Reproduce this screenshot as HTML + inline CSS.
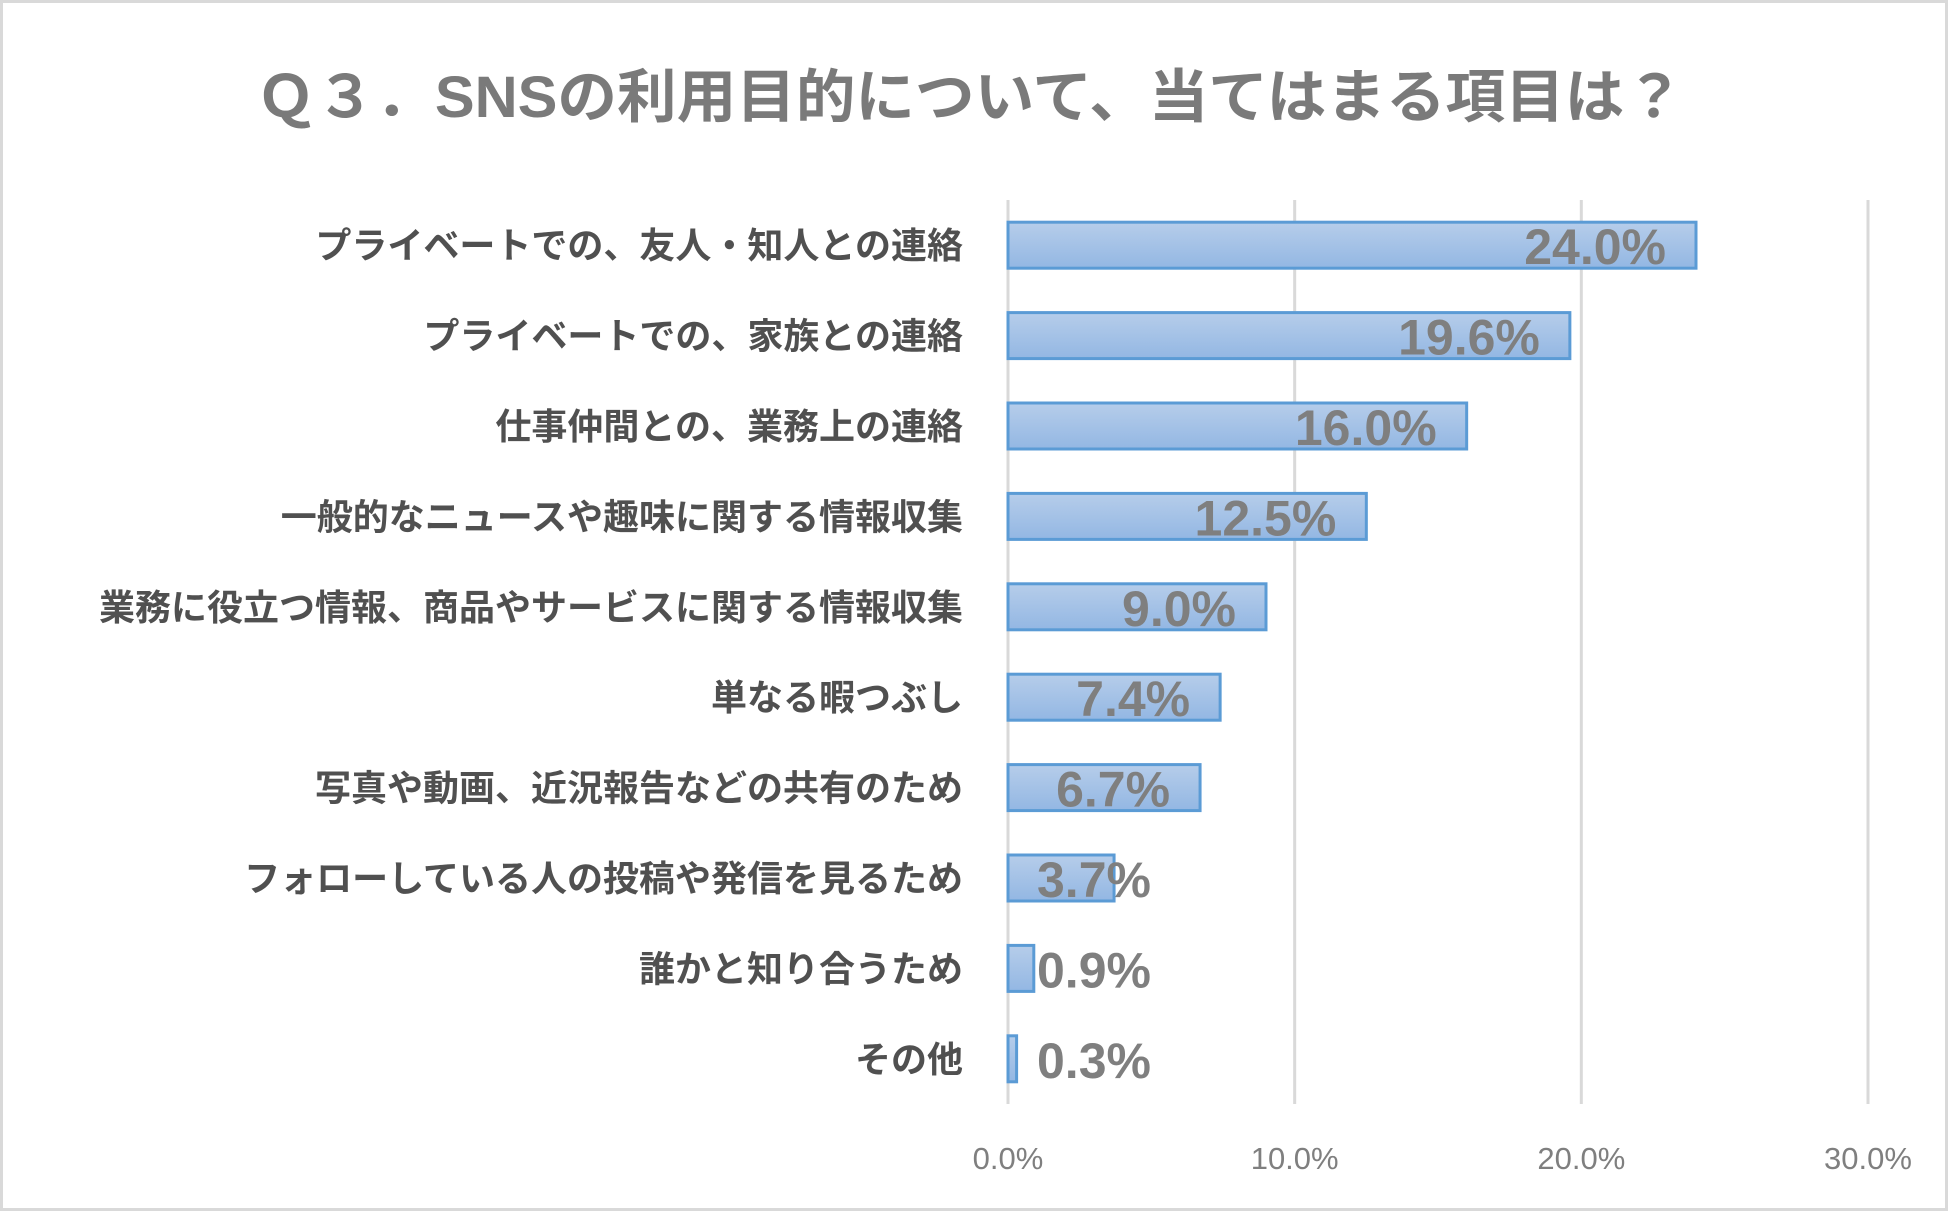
<!DOCTYPE html>
<html><head><meta charset="utf-8"><style>
html,body{margin:0;padding:0;background:#fff;}
svg{display:block;font-family:"Liberation Sans","Noto Sans CJK JP",sans-serif;}
</style></head><body>
<svg id="chart" width="1949" height="1212" viewBox="0 0 1949 1212" xmlns="http://www.w3.org/2000/svg">
<defs><linearGradient id="bg" x1="0" y1="0" x2="0" y2="1"><stop offset="0" stop-color="#b6cdea"/><stop offset="1" stop-color="#93b7e3"/></linearGradient></defs>
<rect x="1.5" y="1.5" width="1945" height="1208" fill="#fff" stroke="#d9d9d9" stroke-width="3"/>
<text x="256" y="117" font-size="58" font-weight="bold" fill="#7a7a7a" textLength="1428" lengthAdjust="spacingAndGlyphs">Ｑ３．SNSの利用目的について、当てはまる項目は？</text>
<g id="grid"></g><g id="bars"></g><g id="labels"></g><g id="ticks"></g>
</svg>
<script>
const categories=["プライベートでの、友人・知人との連絡","プライベートでの、家族との連絡","仕事仲間との、業務上の連絡","一般的なニュースや趣味に関する情報収集","業務に役立つ情報、商品やサービスに関する情報収集","単なる暇つぶし","写真や動画、近況報告などの共有のため","フォローしている人の投稿や発信を見るため","誰かと知り合うため","その他"];
const values=[24.0,19.6,16.0,12.5,9.0,7.4,6.7,3.7,0.9,0.3];
const tickValues=[0,10,20,30];
const tickLabels=["0.0%","10.0%","20.0%","30.0%"];
const NS="http://www.w3.org/2000/svg";
const x0=1008,x1=1868,xMax=30,yTop=200,yBot=1104;
const band=(yBot-yTop)/categories.length;
function xs(v){return x0+(v/xMax)*(x1-x0);}
function yc(i){return yTop+band*(i+0.5);}
function mk(t,a,p){const e=document.createElementNS(NS,t);for(const k in a)e.setAttribute(k,a[k]);document.getElementById(p).appendChild(e);return e;}
tickValues.forEach((v,i)=>{
  const l=mk('line',{x1:xs(v),x2:xs(v),y1:yTop,y2:yBot,stroke:'#d9d9d9','stroke-width':3},'grid');
  
  
  const t=mk('text',{x:xs(v),y:1169,'font-size':31,fill:'#7f7f7f','text-anchor':'middle'},'ticks');
  t.textContent=tickLabels[i];
  
  
});
categories.forEach((c,i)=>{
  const y=yc(i),h=46;
  const r=mk('rect',{x:x0,y:y-h/2,width:Math.max(xs(values[i])-x0,1),height:h,fill:'url(#bg)',stroke:'#5b9bd5','stroke-width':3},'bars');
  
  
  const t=mk('text',{x:963,y:y+13,'font-size':36,'font-weight':'bold',fill:'#505050','text-anchor':'end'},'labels');
  t.textContent=c;
  
  
  const v=mk('text',{x:0,y:y+19,'font-size':50,'font-weight':'bold',fill:'#7f7f7f'},'labels');
  v.textContent=values[i].toFixed(1)+'%';
  
  
  const w=v.getComputedTextLength();
  let sx=xs(values[i])-30-w; if(sx<1037)sx=1037;
  v.setAttribute('x',sx);
});
</script>
</body></html>
